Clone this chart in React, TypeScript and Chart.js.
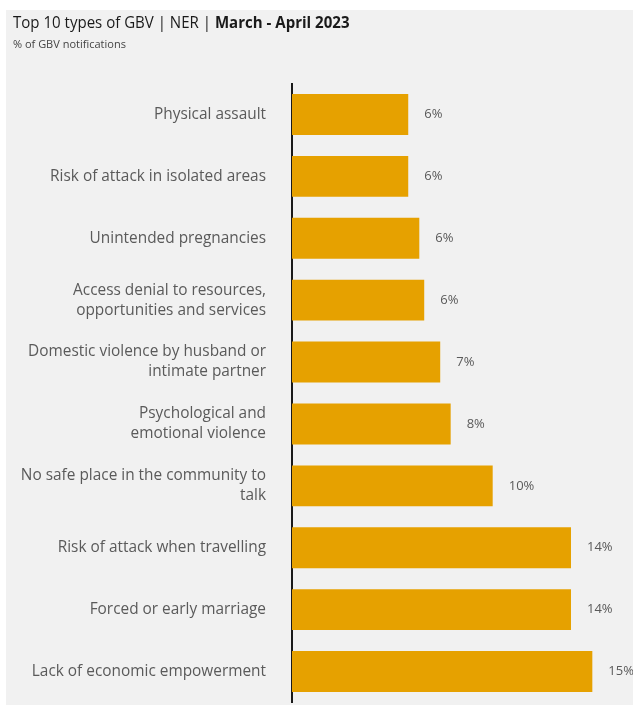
import React, { useEffect, useRef } from "react";
import { Chart, registerables } from "chart.js";

Chart.register(...registerables);

const categories: (string | string[])[] = [
  "Physical assault",
  "Risk of attack in isolated areas",
  "Unintended pregnancies",
  ["Access denial to resources,", "opportunities and services"],
  ["Domestic violence by husband or", "intimate partner"],
  ["Psychological and", "emotional violence"],
  ["No safe place in the community to", "talk"],
  "Risk of attack when travelling",
  "Forced or early marriage",
  "Lack of economic empowerment",
];

const values: number[] = [5.67, 5.67, 6.21, 6.45, 7.23, 7.74, 9.79, 13.61, 13.61, 14.65];

const FONT = "'Open Sans', 'Noto Sans', sans-serif";

const valueLabels = {
  id: "valueLabels",
  afterDatasetsDraw(chart: any) {
    const ctx = chart.ctx;
    const meta = chart.getDatasetMeta(0);
    ctx.save();
    ctx.font = `13px ${FONT}`;
    ctx.fillStyle = "#5a5a5a";
    ctx.textAlign = "left";
    ctx.textBaseline = "middle";
    meta.data.forEach((bar: any, i: number) => {
      ctx.fillText(Math.round(values[i]) + "%", bar.x + 16, bar.y);
    });
    ctx.restore();
  },
};

export default function App() {
  const ref = useRef<HTMLCanvasElement | null>(null);
  useEffect(() => {
    if (!ref.current) return;
    const chart = new Chart(ref.current, {
      type: "bar",
      data: {
        labels: categories,
        datasets: [
          {
            data: values,
            backgroundColor: "#E6A100",
            borderWidth: 0,
            barPercentage: 0.66,
            categoryPercentage: 1,
          },
        ],
      },
      options: {
        indexAxis: "y",
        animation: false,
        responsive: false,
        maintainAspectRatio: false,
        layout: { padding: { top: 73.5, bottom: 2.5, left: 0, right: 13 } },
        plugins: {
          legend: { display: false },
          tooltip: { enabled: false },
          title: { display: false },
        },
        scales: {
          x: { display: false, min: 0, max: 16 },
          y: {
            afterFit(scale: any) {
              scale.width = 286;
              scale.paddingTop = 0;
              scale.paddingBottom = 0;
            },
            grid: { display: false, drawTicks: false },
            border: { display: true, color: "#1a1a1a", width: 2 },
            ticks: {
              padding: 26,
              color: "#5a5a5a",
              font: { family: FONT, size: 15.4, lineHeight: 1.3 },
            },
          },
        },
      },
      plugins: [valueLabels],
    });
    return () => chart.destroy();
  }, []);

  return (
    <div
      style={{
        position: "absolute",
        left: 6,
        top: 10,
        width: 627,
        height: 695,
        background: "#f1f1f1",
        fontFamily: FONT,
      }}
    >
      <canvas
        ref={ref}
        width={627}
        height={695}
        style={{ position: "absolute", left: 0, top: 0, width: 627, height: 695 }}
      />
      <div
        style={{
          position: "absolute",
          left: 7,
          top: 0,
          fontSize: 16,
          color: "#1a1a1a",
          whiteSpace: "nowrap",
          lineHeight: "24px",
          transform: "scaleX(0.94)",
          transformOrigin: "left center",
        }}
      >
        Top 10 types of GBV | NER | <b>March - April 2023</b>
      </div>
      <div
        style={{
          position: "absolute",
          left: 7,
          top: 26,
          fontSize: 11,
          color: "#444",
          whiteSpace: "nowrap",
          lineHeight: "16px",
        }}
      >
        % of GBV notifications
      </div>
    </div>
  );
}
